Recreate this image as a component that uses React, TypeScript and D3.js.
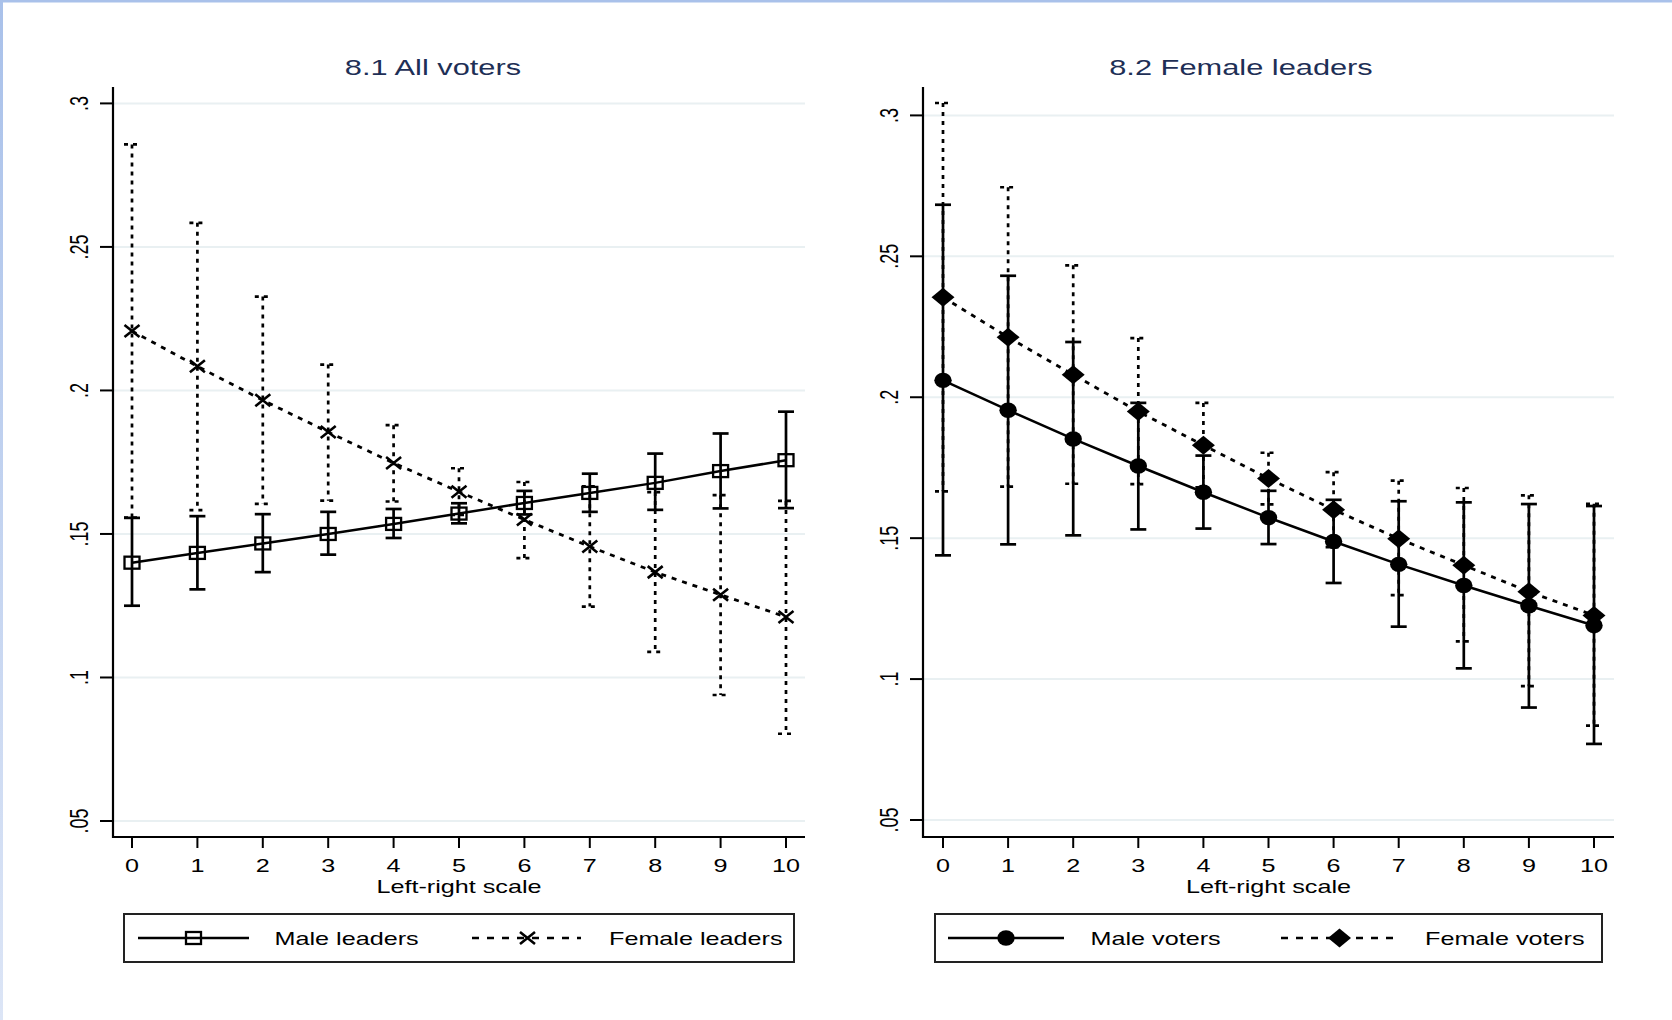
import React from 'react';
import * as d3 from 'd3';

const xTicks = [0, 1, 2, 3, 4, 5, 6, 7, 8, 9, 10];
const yTicks = [0.05, 0.1, 0.15, 0.2, 0.25, 0.3];
const yTickLabels = ['.05', '.1', '.15', '.2', '.25', '.3'];

// 8.1 All voters
const maleLeadersMean = [0.140, 0.1434, 0.1467, 0.150, 0.1535, 0.1571, 0.1608, 0.1643, 0.1678, 0.1719, 0.1757];
const maleLeadersLo = [0.125, 0.1307, 0.1367, 0.1428, 0.1486, 0.1537, 0.1568, 0.1577, 0.1584, 0.1589, 0.1590];
const maleLeadersHi = [0.1556, 0.1562, 0.1569, 0.1577, 0.1587, 0.1607, 0.165, 0.171, 0.178, 0.185, 0.1926];
const femaleLeadersMean = [0.2207, 0.2084, 0.1966, 0.1855, 0.1747, 0.1647, 0.155, 0.1456, 0.1367, 0.1288, 0.1211];
const femaleLeadersLo = [0.1557, 0.1583, 0.1605, 0.1616, 0.1613, 0.1566, 0.1416, 0.1247, 0.1089, 0.0939, 0.0804];
const femaleLeadersHi = [0.2857, 0.2584, 0.2327, 0.209, 0.1879, 0.1729, 0.1681, 0.1666, 0.1646, 0.1635, 0.1615];

// 8.2 Female leaders
const maleVotersMean = [0.206, 0.1954, 0.1852, 0.1756, 0.1663, 0.1573, 0.1488, 0.1407, 0.1332, 0.126, 0.119];
const maleVotersLo = [0.1439, 0.1478, 0.151, 0.1531, 0.1534, 0.1479, 0.1341, 0.1186, 0.1038, 0.0899, 0.077];
const maleVotersHi = [0.2683, 0.2431, 0.2196, 0.198, 0.1793, 0.1668, 0.1636, 0.1631, 0.1627, 0.1621, 0.1614];
const femaleVotersMean = [0.2355, 0.2213, 0.208, 0.1949, 0.183, 0.1712, 0.1601, 0.1498, 0.1404, 0.131, 0.1226];
const femaleVotersLo = [0.1666, 0.1683, 0.1693, 0.1692, 0.168, 0.162, 0.1468, 0.1298, 0.1134, 0.0975, 0.0835];
const femaleVotersHi = [0.3044, 0.2745, 0.2468, 0.221, 0.198, 0.1803, 0.1734, 0.1704, 0.1678, 0.1652, 0.1622];

const FONT = '"Liberation Sans", Arial, sans-serif';
const SX = 1.4; // the original graph is stretched sideways
const GRID = '#e9f0f2';
const TITLE = '#1e2f56';

const Txt = ({ x, y, children, size = 18, anchor = 'start', fill = '#000', rotate = 0 }) => (
  <text
    transform={`translate(${x},${y}) scale(${SX},1)${rotate ? ` rotate(${rotate})` : ''}`}
    textAnchor={anchor}
    fontSize={size}
    fontFamily={FONT}
    fill={fill}
  >
    {children}
  </text>
);

const Marker = ({ type, x, y }) => {
  if (type === 'square') {
    return <rect x={x - 7.5} y={y - 6} width={15} height={12} fill="none" stroke="#000" strokeWidth={2.3} />;
  }
  if (type === 'x') {
    return (
      <path d={`M${x - 7.5},${y - 6}L${x + 7.5},${y + 6}M${x - 7.5},${y + 6}L${x + 7.5},${y - 6}`} stroke="#000" strokeWidth={2.6} />
    );
  }
  if (type === 'circle') {
    return <ellipse cx={x} cy={y} rx={8.7} ry={7.7} fill="#000" />;
  }
  return <path d={`M${x},${y - 9.5}L${x + 11.5},${y}L${x},${y + 9.5}L${x - 11.5},${y}Z`} fill="#000" />;
};

const Panel = ({ title, x0, x1, xAxisEnd, yTop, yBottom, yAxisX, series, legend, legendBox }) => {
  const x = d3.scaleLinear().domain([0, 10]).range([x0, x1]);
  const y = d3.scaleLinear().domain([0.05, 0.3]).range([yBottom, yTop]);
  const axisY = 837;
  const line = d3.line().x((d, i) => x(i)).y((d) => y(d));

  return (
    <g>
      <Txt x={title.x} y={75} size={22} anchor="middle" fill={TITLE}>{title.text}</Txt>
      {yTicks.map((t, i) => (
        <g key={t}>
          <line x1={yAxisX} x2={xAxisEnd} y1={y(t)} y2={y(t)} stroke={GRID} strokeWidth={2} />
          <line x1={yAxisX - 13} x2={yAxisX} y1={y(t)} y2={y(t)} stroke="#000" strokeWidth={2} />
          <Txt x={yAxisX - 25} y={y(t)} anchor="middle" rotate={-90}>{yTickLabels[i]}</Txt>
        </g>
      ))}
      {xTicks.map((t) => (
        <g key={t}>
          <line x1={x(t)} x2={x(t)} y1={axisY} y2={axisY + 11} stroke="#000" strokeWidth={2} />
          <Txt x={x(t)} y={872} anchor="middle">{t}</Txt>
        </g>
      ))}
      <line x1={yAxisX} x2={yAxisX} y1={87} y2={axisY + 1} stroke="#000" strokeWidth={2.2} />
      <line x1={yAxisX} x2={xAxisEnd} y1={axisY} y2={axisY} stroke="#000" strokeWidth={2.2} />
      <Txt x={(yAxisX + xAxisEnd) / 2} y={893} anchor="middle">Left-right scale</Txt>

      {series.map((s) => (
        <g key={s.name}>
          {s.mean.map((m, i) => (
            <g key={i} stroke="#000" strokeWidth={2.7} strokeDasharray={s.dashed ? '4,5' : null} fill="none">
              <line x1={x(i)} x2={x(i)} y1={y(s.hi[i])} y2={y(s.lo[i])} />
              <line x1={x(i) - 8} x2={x(i) + 8} y1={y(s.hi[i])} y2={y(s.hi[i])} />
              <line x1={x(i) - 8} x2={x(i) + 8} y1={y(s.lo[i])} y2={y(s.lo[i])} />
            </g>
          ))}
        </g>
      ))}
      {series.map((s) => (
        <g key={s.name + 'line'}>
          <path d={line(s.mean)} fill="none" stroke="#000" strokeWidth={s.dashed ? 2.8 : 2.5} strokeDasharray={s.dashed ? '5,6' : null} />
          {s.mean.map((m, i) => (
            <Marker key={i} type={s.marker} x={x(i)} y={y(m)} />
          ))}
        </g>
      ))}

      <rect x={legendBox[0]} y={914} width={legendBox[1] - legendBox[0]} height={48} fill="none" stroke="#222" strokeWidth={2} />
      {legend.map((l) => (
        <g key={l.label}>
          <line x1={l.from} x2={l.to} y1={938} y2={938} stroke="#000" strokeWidth={2.5} strokeDasharray={l.dashed ? '7,8' : null} />
          <Marker type={l.marker} x={l.mark} y={938} />
          <Txt x={l.textX} y={944.5}>{l.label}</Txt>
        </g>
      ))}
    </g>
  );
};

export default function App() {
  return (
    <svg width={1672} height={1020} style={{ position: 'absolute', left: 0, top: 0, background: '#fff' }}>
      <defs>
        <linearGradient id="edge" x1="0" y1="0" x2="0" y2="1">
          <stop offset="0" stopColor="#a9c1ea" />
          <stop offset="1" stopColor="#dce5f6" />
        </linearGradient>
      </defs>
      <rect x={0} y={0} width={1672} height={1020} fill="#fff" />
      <rect x={0} y={0} width={3} height={1020} fill="url(#edge)" />
      <rect x={0} y={0} width={1672} height={2.5} fill="#a9c1ea" />

      <Panel
        title={{ text: '8.1 All voters', x: 433 }}
        x0={132}
        x1={786}
        xAxisEnd={805}
        yTop={103.4}
        yBottom={821}
        yAxisX={113}
        series={[
          { name: 'fl', mean: femaleLeadersMean, lo: femaleLeadersLo, hi: femaleLeadersHi, dashed: true, marker: 'x' },
          { name: 'ml', mean: maleLeadersMean, lo: maleLeadersLo, hi: maleLeadersHi, dashed: false, marker: 'square' },
        ]}
        legendBox={[124, 794]}
        legend={[
          { label: 'Male leaders', from: 138, to: 249, mark: 193.5, textX: 274.5, dashed: false, marker: 'square' },
          { label: 'Female leaders', from: 472, to: 581, mark: 527.5, textX: 609, dashed: true, marker: 'x' },
        ]}
      />
      <Panel
        title={{ text: '8.2 Female leaders', x: 1241 }}
        x0={943}
        x1={1594}
        xAxisEnd={1614}
        yTop={115.4}
        yBottom={820}
        yAxisX={923}
        series={[
          { name: 'fv', mean: femaleVotersMean, lo: femaleVotersLo, hi: femaleVotersHi, dashed: true, marker: 'diamond' },
          { name: 'mv', mean: maleVotersMean, lo: maleVotersLo, hi: maleVotersHi, dashed: false, marker: 'circle' },
        ]}
        legendBox={[935, 1602]}
        legend={[
          { label: 'Male voters', from: 948, to: 1064, mark: 1006, textX: 1090.5, dashed: false, marker: 'circle' },
          { label: 'Female voters', from: 1281, to: 1398, mark: 1339.5, textX: 1425, dashed: true, marker: 'diamond' },
        ]}
      />
    </svg>
  );
}
